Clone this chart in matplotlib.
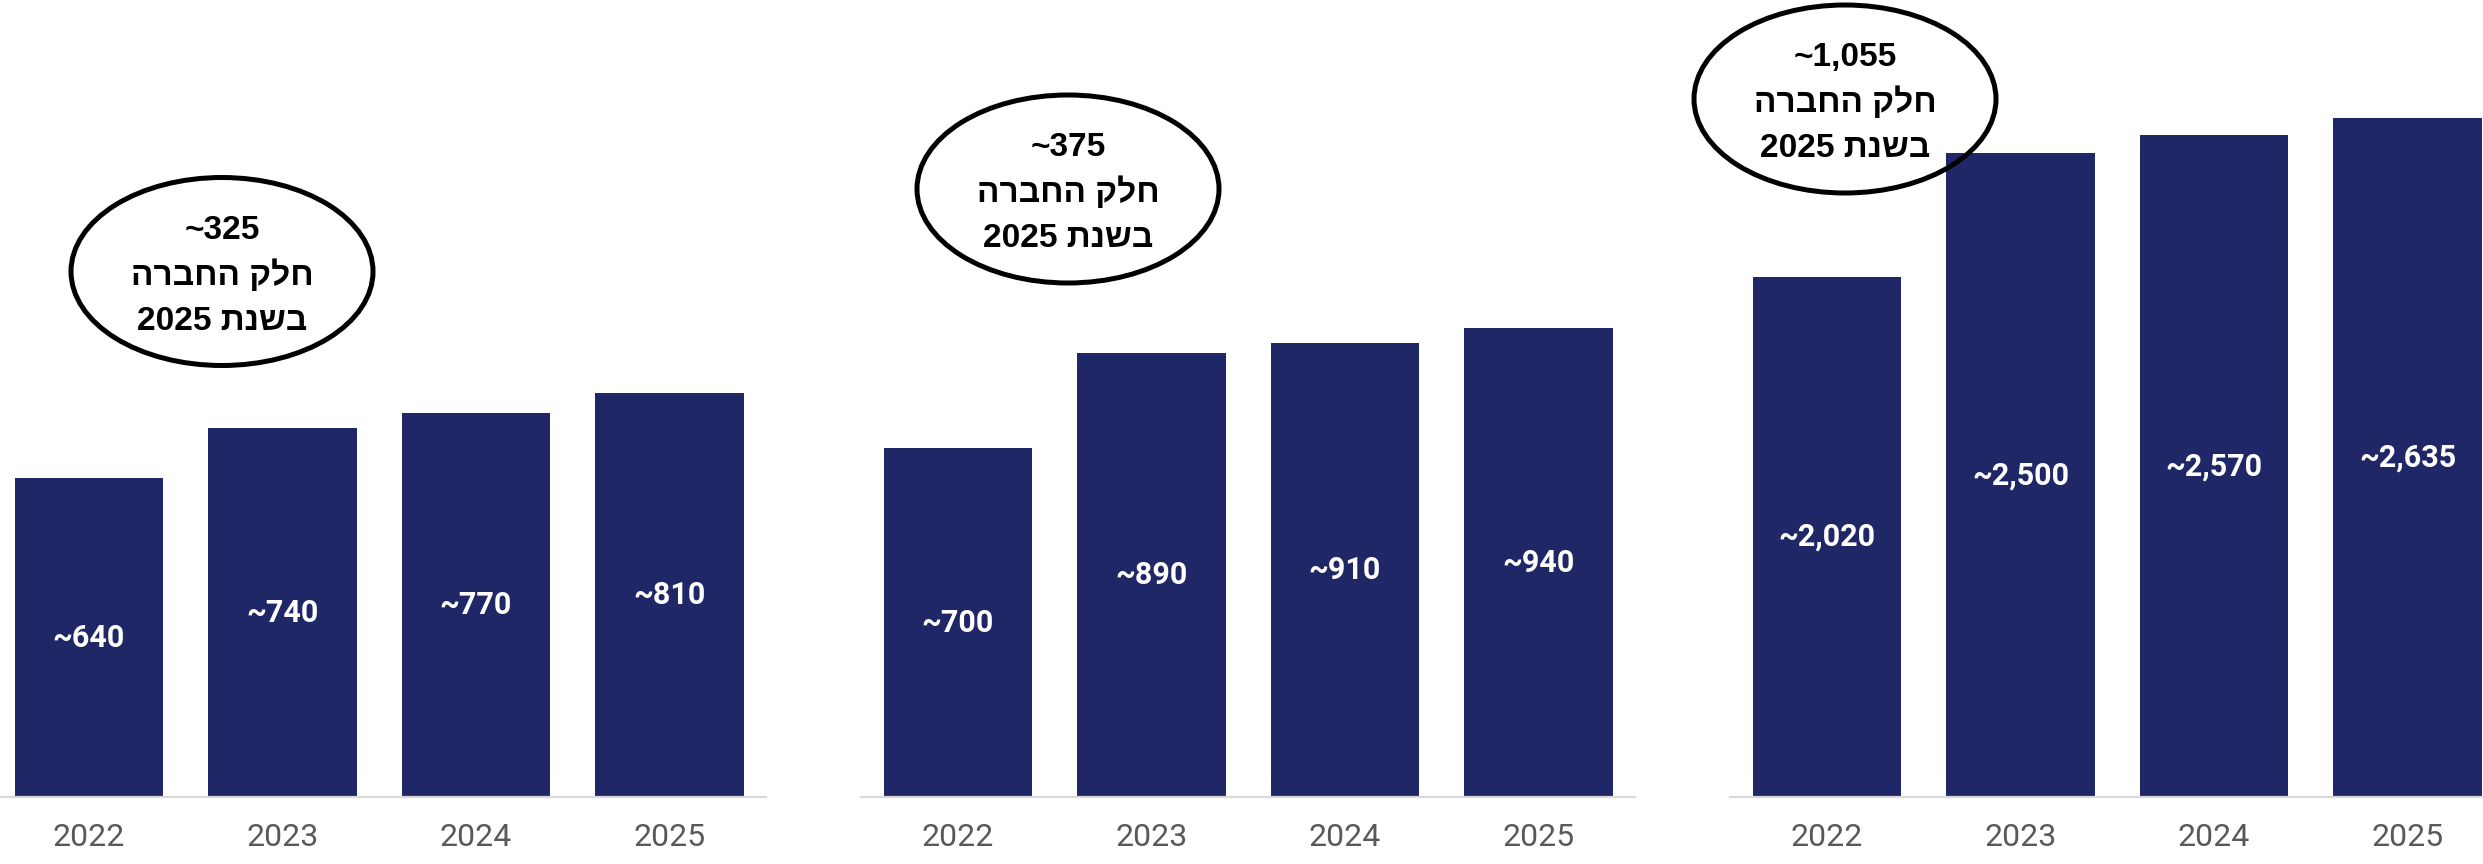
import matplotlib
matplotlib.use('Agg')
import matplotlib.pyplot as plt
from matplotlib.patches import Ellipse

# data
years = ['2022', '2023', '2024', '2025']
panel_a = [640, 740, 770, 810]
panel_b = [700, 890, 910, 940]
panel_c = [2020, 2500, 2570, 2635]
company_share = [325, 375, 1055]
share_line2 = 'חלק החברה'
share_line3 = 'בשנת 2025'

W, H = 2483, 864
BAR = '#1F2766'
GRID = '#D9D9D9'
YEAR_C = '#595959'


def visual(s):
    # matplotlib has no bidi: flip word order and Hebrew letters by hand
    out = []
    for tok in s.split(' ')[::-1]:
        if any('\u0590' <= ch <= '\u05FF' for ch in tok):
            tok = tok[::-1]
        out.append(tok)
    return ' '.join(out)


def fx(px):
    return px / W


def fy(py):
    return 1 - py / H


fig = plt.figure(figsize=(W / 100, H / 100), dpi=100)

# axes layout in pixels: left edge, shared baseline
lefts = [-7.75, 861.25, 1730.25]
ax_w = 774
base = 797
ylims = [1599, 1599, 3095]
series = [panel_a, panel_b, panel_c]

for left, vals, ytop in zip(lefts, series, ylims):
    ax = fig.add_axes([fx(left), fy(base), ax_w / W, base / H])
    x = range(len(years))
    ax.bar(x, vals, width=0.765, color=BAR, zorder=1)
    ax.set_xlim(-0.5, 3.5)
    ax.set_ylim(0, ytop)
    for xi, v in zip(x, vals):
        ax.text(xi, v / 2, f'~{v:,}', ha='center', va='center', color='white',
                fontsize=22, fontweight='bold', family=['Roboto', 'DejaVu Sans'])
    ax.set_xticks(list(x))
    ax.set_xticklabels(years, fontsize=23, color=YEAR_C, family=['Roboto', 'DejaVu Sans'])
    ax.set_yticks([])
    for side in ['top', 'right', 'left']:
        ax.spines[side].set_visible(False)
    ax.spines['bottom'].set_color(GRID)
    ax.spines['bottom'].set_linewidth(1.6)
    ax.spines['bottom'].set_zorder(2)
    ax.tick_params(axis='x', length=0, pad=19)
    ax.patch.set_alpha(0)

# ellipse call-outs (centre in pixels)
centres = [(222, 271.5), (1068, 189), (1845, 99)]
hfont = ['Liberation Sans Narrow', 'Liberation Sans', 'DejaVu Sans']
for (cx, cy), share in zip(centres, company_share):
    e = Ellipse((fx(cx), fy(cy)), 302 / W, 188 / H, transform=fig.transFigure,
                fill=False, edgecolor='black', linewidth=3.6, zorder=5)
    fig.add_artist(e)
    lines = [f'~{share:,}', visual(share_line2), visual(share_line3)]
    for off, txt in zip([-33, 13.5, 58], lines):
        fig.text(fx(cx), fy(cy + off), txt, ha='center', va='baseline',
                 fontsize=24, fontweight='bold', color='black', family=hfont, zorder=6)

fig.savefig('out.png', dpi=100)
